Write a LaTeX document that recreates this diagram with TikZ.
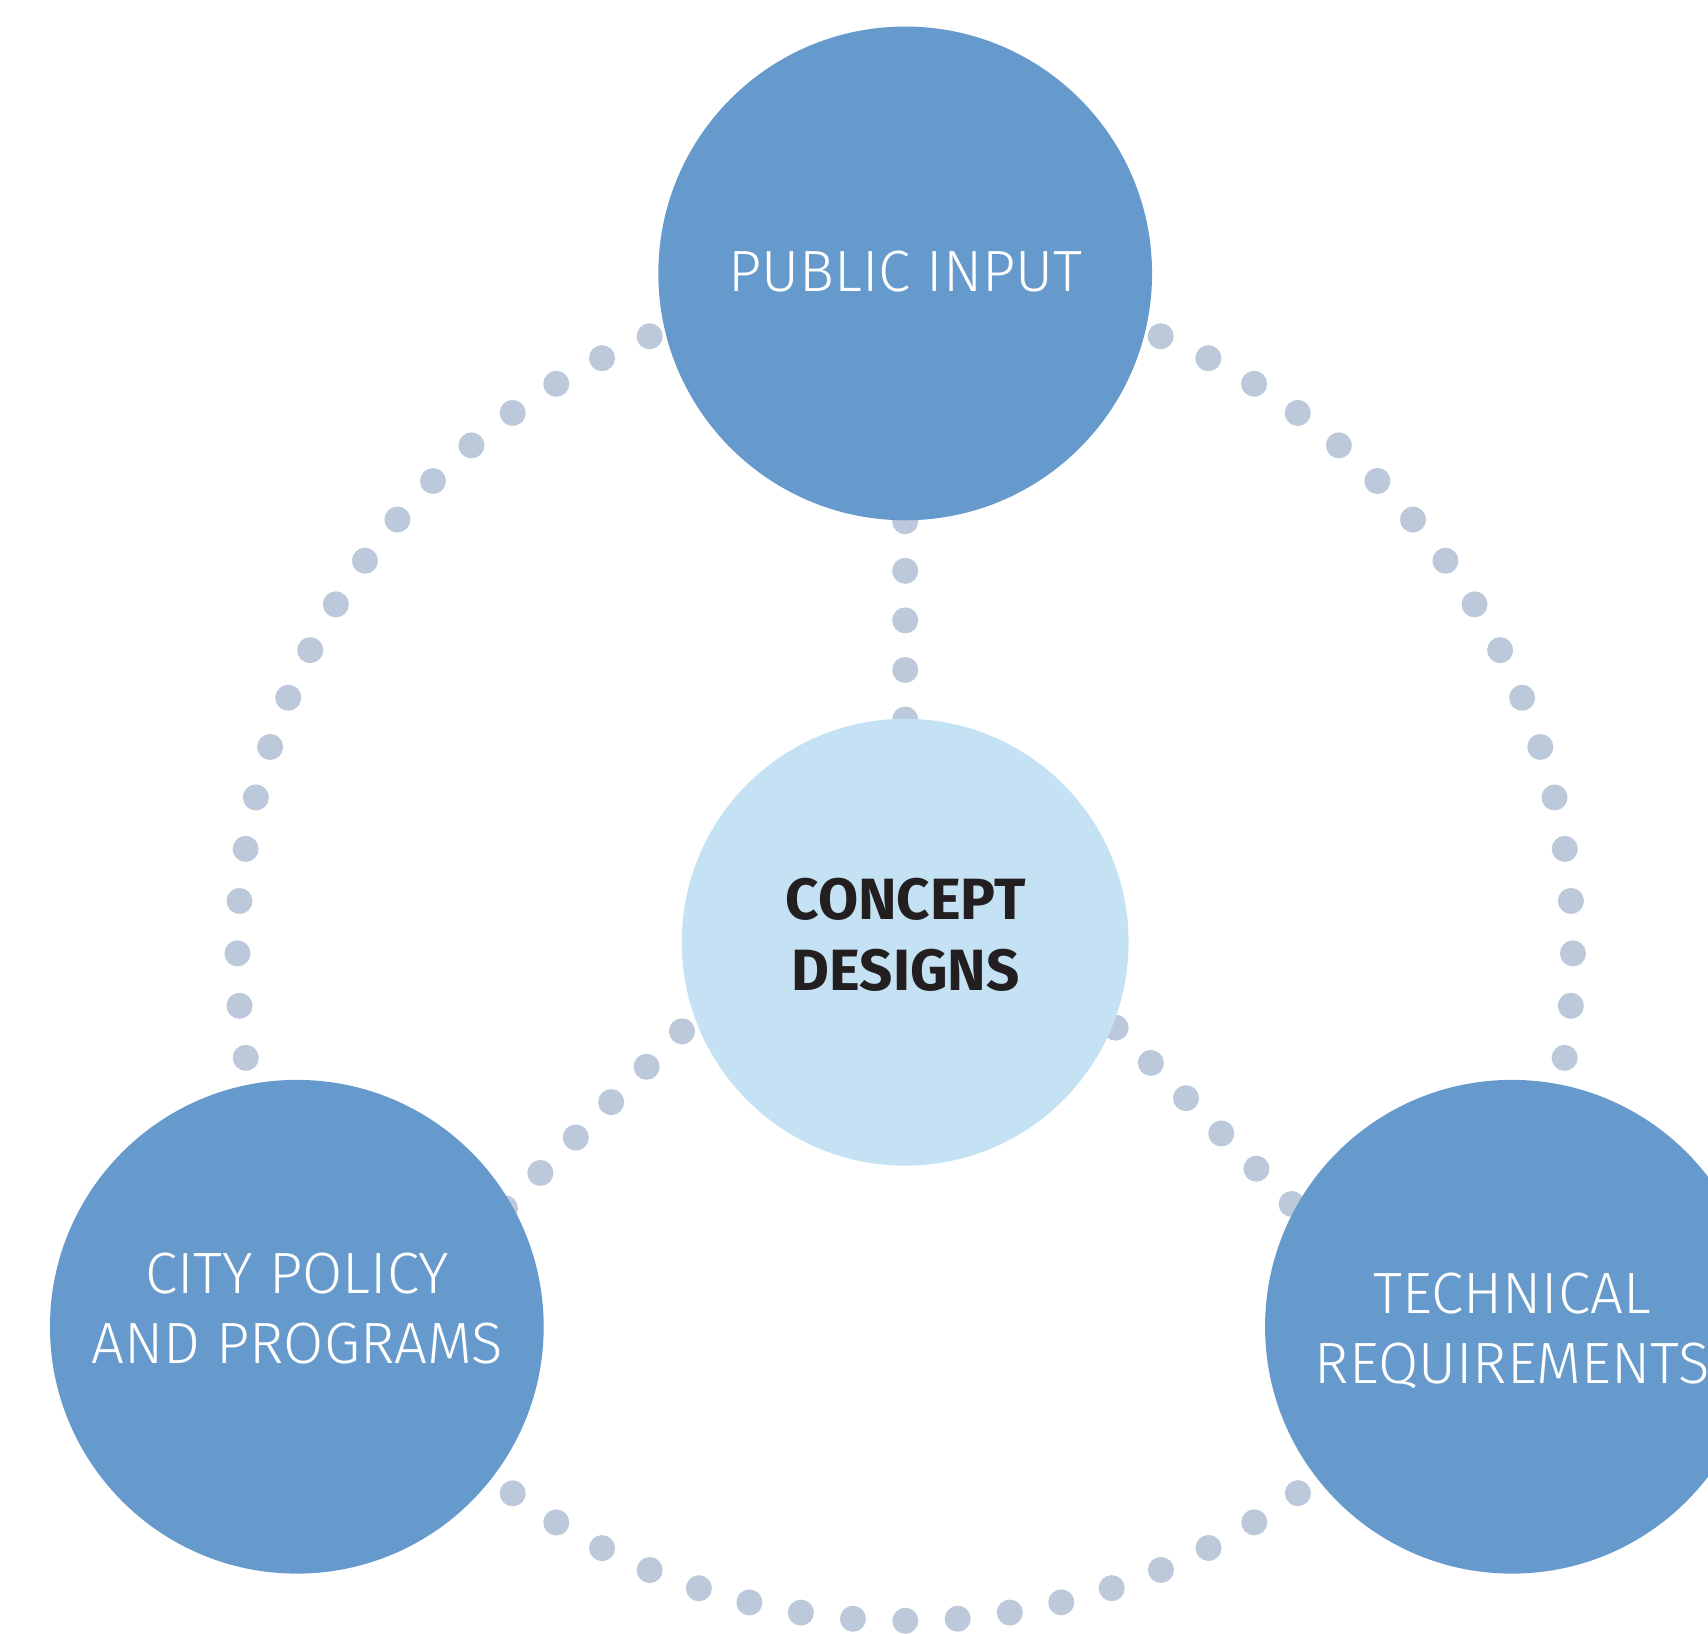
\documentclass[tikz,border=0pt]{standalone}
\usepackage{fontspec}
\setmainfont{Fira Sans}
\newfontfamily\lightfont{Fira Sans Light}
\usetikzlibrary{calc,backgrounds}
\definecolor{nodeblue}{HTML}{669ACC}
\definecolor{coreblue}{HTML}{C5E2F4}
\definecolor{dotgray}{HTML}{BCC9DA}
\definecolor{inkblack}{HTML}{231F20}
\begin{document}
\begin{tikzpicture}[x=0.01cm,y=-0.01cm,
  hub/.style={circle, fill=nodeblue, draw=none, minimum size=4.53cm, inner sep=0pt},
  core/.style={circle, fill=coreblue, draw=none, minimum size=4.10cm, inner sep=0pt},
  dotline/.style={draw=dotgray, line width=6.8pt, line cap=round, dash pattern=on 0pt off #1},
  hublabel/.style={text=white, font=\lightfont\fontsize{15.2pt}{18.35pt}\selectfont, align=center, anchor=base, inner sep=0pt},
  corelabel/.style={text=inkblack, font=\bfseries\fontsize{15.2pt}{18.3pt}\selectfont, align=center, anchor=base, inner sep=0pt}]
\useasboundingbox (0,0) rectangle (1568,1500);
\clip (0,0) rectangle (1568,1500);

% circles
\node[hub] (public) at (831,251) {};
\node[core] (concept) at (831,865) {};
\node[hub] (city) at (272.5,1218) {};
\node[hub] (tech) at (1388,1218) {};

% labels (anchored at the baseline of the last line)
\node[hublabel] (publiclbl) at (831.2,267.2) {PUBLIC INPUT};
\node[hublabel] (citylbl) at (272.7,1251.8) {CITY POLICY\\AND PROGRAMS};
\node[hublabel] (techlbl) at (1388.3,1270.1) {TECHNICAL\\REQUIREMENTS};
\node[corelabel] (conceptlbl) at (831.5,908.9) {CONCEPT\\DESIGNS};

% connector end points
\coordinate (ring) at (831,875);
\coordinate (dl1) at (626.1,946.8);
\coordinate (dl6) at (463.6,1109.3);
\coordinate (dr1) at (1024.2,943.4);
\coordinate (dr6) at (1185.8,1105.3);

\begin{pgfonlayer}{background}
  % vertical link public -- concept
  \draw[dotline=12.94pt] (public.center) -- (concept.center);
  % diagonal links (extended a little past the last dot)
  \draw[dotline=13.07pt] (dl1) -- ($(dl1)!1.06!(dl6)$);
  \draw[dotline=13.01pt] (dr1) -- ($(dr1)!1.06!(dr6)$);
  % outer ring arcs
  \draw[dotline=13.695pt] ($(ring)+(-67.5:613)$) arc[start angle=-67.5, end angle=10.5, radius=613];
  \draw[dotline=13.695pt] ($(ring)+(-112.5:613)$) arc[start angle=-112.5, end angle=-190.5, radius=613];
  \draw[dotline=13.695pt] ($(ring)+(126:613)$) arc[start angle=126, end angle=52.5, radius=613];
\end{pgfonlayer}
\end{tikzpicture}
\end{document}
